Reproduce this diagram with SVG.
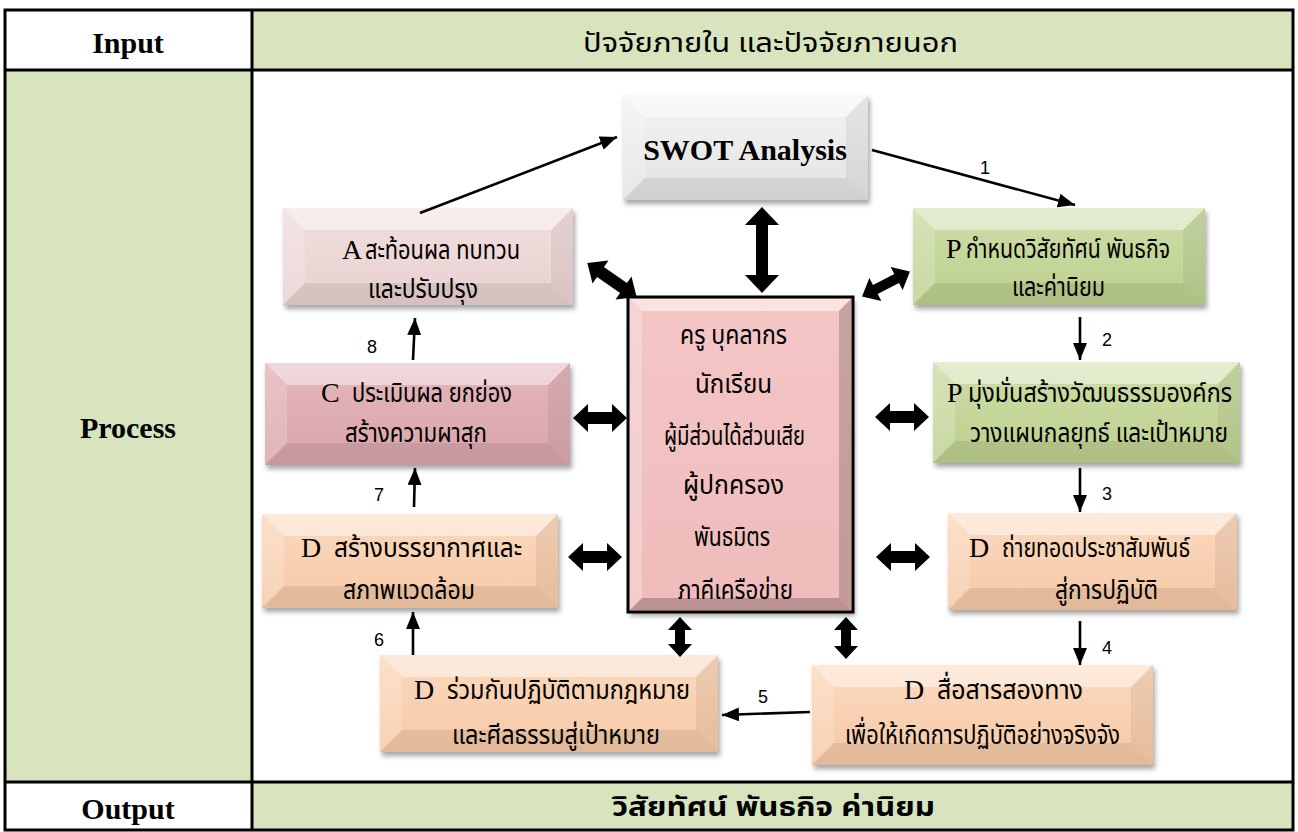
<svg xmlns="http://www.w3.org/2000/svg" width="1298" height="832" viewBox="0 0 1298 832">
<style>
.cell{fill:#D7E4BD}
.grid{stroke:#000;stroke-width:3;fill:none}
.hdr{font-family:'Liberation Serif',serif;font-weight:bold;font-size:30px;fill:#000;text-anchor:middle}
.lat{font-family:'Liberation Serif',serif;font-size:28px;fill:#000}
.th{font-family:'Noto Sans Thai','Noto Sans','DejaVu Sans',sans-serif;font-size:27px;fill:#000}
.num{font-family:'Liberation Sans',sans-serif;font-size:18px;fill:#000;text-anchor:middle}
.bt{fill:#fff;fill-opacity:0.45}
.bl{fill:#fff;fill-opacity:0.18}
.br{fill:#000;fill-opacity:0.06}
.bb{fill:#000;fill-opacity:0.08}
.cbt{fill:#fff;fill-opacity:0.5}
.cbl{fill:#fff;fill-opacity:0.25}
.cbr{fill:#000;fill-opacity:0.18}
.cbb{fill:#000;fill-opacity:0.22}
.thin{stroke:#000;stroke-width:2.6;fill:none;marker-end:url(#ah)}
.fat{fill:#000}
</style>
<defs>
<marker id="ah" markerUnits="userSpaceOnUse" markerWidth="17" markerHeight="14" refX="17" refY="7" orient="auto">
<path d="M0,0 L17,7 L0,14 z" fill="#000"/>
</marker>
<filter id="sh" x="-10%" y="-10%" width="125%" height="130%">
<feDropShadow dx="2" dy="4" stdDeviation="2.5" flood-color="#000" flood-opacity="0.35"/>
</filter>
<linearGradient id="gSwot" x1="0" y1="0" x2="0" y2="1"><stop offset="0" stop-color="#F4F4F4"/><stop offset="1" stop-color="#E2E2E2"/></linearGradient>
<linearGradient id="gA" x1="0" y1="0" x2="0" y2="1"><stop offset="0" stop-color="#F2DEDE"/><stop offset="1" stop-color="#E9D0D0"/></linearGradient>
<linearGradient id="gP" x1="0" y1="0" x2="0" y2="1"><stop offset="0" stop-color="#CDDEA8"/><stop offset="1" stop-color="#BCD08E"/></linearGradient>
<linearGradient id="gC" x1="0" y1="0" x2="0" y2="1"><stop offset="0" stop-color="#E4B6BA"/><stop offset="1" stop-color="#D9A6AB"/></linearGradient>
<linearGradient id="gD" x1="0" y1="0" x2="0" y2="1"><stop offset="0" stop-color="#FBD9BE"/><stop offset="1" stop-color="#F6C9A6"/></linearGradient>
<linearGradient id="gM" x1="0" y1="0" x2="0" y2="1"><stop offset="0" stop-color="#F4C6C6"/><stop offset="1" stop-color="#EFBBBB"/></linearGradient>
</defs>

<g id="table">
<rect class="cell" x="252" y="10" width="1041" height="60"/>
<rect class="cell" x="5" y="70" width="247" height="712"/>
<rect class="cell" x="252" y="782" width="1041" height="48"/>
<rect class="grid" x="5" y="10" width="1288" height="820"/>
<line class="grid" x1="5" y1="70" x2="1293" y2="70"/>
<line class="grid" x1="5" y1="782" x2="1293" y2="782"/>
<line class="grid" x1="252" y1="10" x2="252" y2="830"/>
<text class="hdr" x="128" y="53">Input</text>
<text class="hdr" x="128" y="438">Process</text>
<text class="hdr" x="128" y="819">Output</text>
<text class="th" x="583" y="52" font-size="27" textLength="375" lengthAdjust="spacingAndGlyphs">ปัจจัยภายใน และปัจจัยภายนอก</text>
<text class="th" x="612" y="816" font-weight="bold" font-size="28" textLength="323" lengthAdjust="spacingAndGlyphs">วิสัยทัศน์ พันธกิจ ค่านิยม</text>
</g>

<g id="node-swot">
<g transform="translate(623,95)">
<rect width="245" height="105" fill="url(#gSwot)" filter="url(#sh)"/>
<polygon class="bt" points="0,0 245,0 223,22 22,22"/>
<polygon class="bl" points="0,0 22,22 22,83 0,105"/>
<polygon class="br" points="245,0 245,105 223,83 223,22"/>
<polygon class="bb" points="0,105 22,83 223,83 245,105"/>
</g>
<text class="hdr" x="745" y="160" font-size="31">SWOT Analysis</text>
</g>

<g id="node-a">
<g transform="translate(283,208)">
<rect width="290" height="97" fill="url(#gA)" filter="url(#sh)"/>
<polygon class="bt" points="0,0 290,0 268,22 22,22"/>
<polygon class="bl" points="0,0 22,22 22,75 0,97"/>
<polygon class="br" points="290,0 290,97 268,75 268,22"/>
<polygon class="bb" points="0,97 22,75 268,75 290,97"/>
</g>
<text class="lat" x="342" y="259">A</text>
<text class="th" x="365" y="259" textLength="155" lengthAdjust="spacingAndGlyphs">สะท้อนผล ทบทวน</text>
<text class="th" x="368" y="298" textLength="110" lengthAdjust="spacingAndGlyphs">และปรับปรุง</text>
</g>

<g id="node-p1">
<g transform="translate(913,208)">
<rect width="292" height="97" fill="url(#gP)" filter="url(#sh)"/>
<polygon class="bt" points="0,0 292,0 270,22 22,22"/>
<polygon class="bl" points="0,0 22,22 22,75 0,97"/>
<polygon class="br" points="292,0 292,97 270,75 270,22"/>
<polygon class="bb" points="0,97 22,75 270,75 292,97"/>
</g>
<text class="lat" x="946" y="258">P</text>
<text class="th" x="966" y="258" textLength="204" lengthAdjust="spacingAndGlyphs">กำหนดวิสัยทัศน์ พันธกิจ</text>
<text class="th" x="1012" y="296" textLength="93" lengthAdjust="spacingAndGlyphs">และค่านิยม</text>
</g>

<g id="node-center">
<g transform="translate(628,297)">
<rect width="225" height="315" fill="url(#gM)" filter="url(#sh)"/>
<polygon class="cbt" points="2,2 223,2 211,14 14,14"/>
<polygon class="cbl" points="2,2 14,14 14,301 2,313"/>
<polygon class="cbr" points="223,2 223,313 211,301 211,14"/>
<polygon class="cbb" points="2,313 14,301 211,301 223,313"/>
<rect width="225" height="315" fill="none" stroke="#000" stroke-width="3"/>
</g>
<text class="th" x="680" y="344" font-size="28" textLength="107" lengthAdjust="spacingAndGlyphs">ครู บุคลากร</text>
<text class="th" x="695" y="393" font-size="28" textLength="77" lengthAdjust="spacingAndGlyphs">นักเรียน</text>
<text class="th" x="664" y="445" font-size="28" textLength="141" lengthAdjust="spacingAndGlyphs">ผู้มีส่วนได้ส่วนเสีย</text>
<text class="th" x="683" y="494" font-size="28" textLength="101" lengthAdjust="spacingAndGlyphs">ผู้ปกครอง</text>
<text class="th" x="694" y="546" font-size="28" textLength="76" lengthAdjust="spacingAndGlyphs">พันธมิตร</text>
<text class="th" x="678" y="599" font-size="28" textLength="115" lengthAdjust="spacingAndGlyphs">ภาคีเครือข่าย</text>
</g>

<g id="node-c">
<g transform="translate(265,363)">
<rect width="305" height="102" fill="url(#gC)" filter="url(#sh)"/>
<polygon class="bt" points="0,0 305,0 283,22 22,22"/>
<polygon class="bl" points="0,0 22,22 22,80 0,102"/>
<polygon class="br" points="305,0 305,102 283,80 283,22"/>
<polygon class="bb" points="0,102 22,80 283,80 305,102"/>
</g>
<text class="lat" x="321" y="402">C</text>
<text class="th" x="352" y="402" textLength="160" lengthAdjust="spacingAndGlyphs">ประเมินผล ยกย่อง</text>
<text class="th" x="345" y="442" textLength="142" lengthAdjust="spacingAndGlyphs">สร้างความผาสุก</text>
</g>

<g id="node-p2">
<g transform="translate(933,362)">
<rect width="307" height="101" fill="url(#gP)" filter="url(#sh)"/>
<polygon class="bt" points="0,0 307,0 285,22 22,22"/>
<polygon class="bl" points="0,0 22,22 22,79 0,101"/>
<polygon class="br" points="307,0 307,101 285,79 285,22"/>
<polygon class="bb" points="0,101 22,79 285,79 307,101"/>
</g>
<text class="lat" x="947" y="402">P</text>
<text class="th" x="968" y="402" textLength="264" lengthAdjust="spacingAndGlyphs">มุ่งมั่นสร้างวัฒนธรรมองค์กร</text>
<text class="th" x="970" y="442" textLength="258" lengthAdjust="spacingAndGlyphs">วางแผนกลยุทธ์ และเป้าหมาย</text>
</g>

<g id="node-d1">
<g transform="translate(262,514)">
<rect width="296" height="94" fill="url(#gD)" filter="url(#sh)"/>
<polygon class="bt" points="0,0 296,0 274,22 22,22"/>
<polygon class="bl" points="0,0 22,22 22,72 0,94"/>
<polygon class="br" points="296,0 296,94 274,72 274,22"/>
<polygon class="bb" points="0,94 22,72 274,72 296,94"/>
</g>
<text class="lat" x="301" y="557">D</text>
<text class="th" x="334" y="557" textLength="188" lengthAdjust="spacingAndGlyphs">สร้างบรรยากาศและ</text>
<text class="th" x="343" y="599" textLength="132" lengthAdjust="spacingAndGlyphs">สภาพแวดล้อม</text>
</g>

<g id="node-d2">
<g transform="translate(948,513)">
<rect width="289" height="97" fill="url(#gD)" filter="url(#sh)"/>
<polygon class="bt" points="0,0 289,0 267,22 22,22"/>
<polygon class="bl" points="0,0 22,22 22,75 0,97"/>
<polygon class="br" points="289,0 289,97 267,75 267,22"/>
<polygon class="bb" points="0,97 22,75 267,75 289,97"/>
</g>
<text class="lat" x="969" y="557">D</text>
<text class="th" x="1002" y="557" textLength="188" lengthAdjust="spacingAndGlyphs">ถ่ายทอดประชาสัมพันธ์</text>
<text class="th" x="1055" y="599" textLength="103" lengthAdjust="spacingAndGlyphs">สู่การปฏิบัติ</text>
</g>

<g id="node-d3">
<g transform="translate(380,655)">
<rect width="338" height="97" fill="url(#gD)" filter="url(#sh)"/>
<polygon class="bt" points="0,0 338,0 316,22 22,22"/>
<polygon class="bl" points="0,0 22,22 22,75 0,97"/>
<polygon class="br" points="338,0 338,97 316,75 316,22"/>
<polygon class="bb" points="0,97 22,75 316,75 338,97"/>
</g>
<text class="lat" x="414" y="699">D</text>
<text class="th" x="447" y="699" textLength="243" lengthAdjust="spacingAndGlyphs">ร่วมกันปฏิบัติตามกฎหมาย</text>
<text class="th" x="452" y="744" textLength="208" lengthAdjust="spacingAndGlyphs">และศีลธรรมสู่เป้าหมาย</text>
</g>

<g id="node-d4">
<g transform="translate(812,665)">
<rect width="341" height="100" fill="url(#gD)" filter="url(#sh)"/>
<polygon class="bt" points="0,0 341,0 319,22 22,22"/>
<polygon class="bl" points="0,0 22,22 22,78 0,100"/>
<polygon class="br" points="341,0 341,100 319,78 319,22"/>
<polygon class="bb" points="0,100 22,78 319,78 341,100"/>
</g>
<text class="lat" x="904" y="699">D</text>
<text class="th" x="937" y="699" textLength="146" lengthAdjust="spacingAndGlyphs">สื่อสารสองทาง</text>
<text class="th" x="845" y="744" textLength="275" lengthAdjust="spacingAndGlyphs">เพื่อให้เกิดการปฏิบัติอย่างจริงจัง</text>
</g>

<g id="connectors">
<line class="thin" x1="420" y1="213" x2="617" y2="137"/>
<line class="thin" x1="872" y1="150" x2="1075" y2="205"/>
<line class="thin" x1="1080" y1="317" x2="1080" y2="360"/>
<line class="thin" x1="1080" y1="468" x2="1080" y2="512"/>
<line class="thin" x1="1080" y1="621" x2="1080" y2="665"/>
<line class="thin" x1="810" y1="712" x2="722" y2="715"/>
<line class="thin" x1="413" y1="655" x2="413" y2="612"/>
<line class="thin" x1="414" y1="507" x2="415" y2="468"/>
<line class="thin" x1="413" y1="360" x2="415" y2="318"/>
<text class="num" x="985" y="174">1</text>
<text class="num" x="1107" y="346">2</text>
<text class="num" x="1107" y="500">3</text>
<text class="num" x="1107" y="654">4</text>
<text class="num" x="763" y="703">5</text>
<text class="num" x="379" y="646">6</text>
<text class="num" x="379" y="501">7</text>
<text class="num" x="372" y="353">8</text>
<path class="fat" transform="translate(762,250) rotate(90)" d="M-43,0 L-25,-17 L-25,-6 L25,-6 L25,-17 L43,0 L25,17 L25,6 L-25,6 L-25,17 z"/>
<path class="fat" transform="translate(612,280) rotate(34.7)" d="M-30,0 L-14,-14 L-14,-6 L14,-6 L14,-14 L30,0 L14,14 L14,6 L-14,6 L-14,14 z"/>
<path class="fat" transform="translate(886,284) rotate(-27.5)" d="M-27,0 L-12,-13 L-12,-5 L12,-5 L12,-13 L27,0 L12,13 L12,5 L-12,5 L-12,13 z"/>
<path class="fat" transform="translate(600,418)" d="M-27,0 L-12,-14 L-12,-6 L12,-6 L12,-14 L27,0 L12,14 L12,6 L-12,6 L-12,14 z"/>
<path class="fat" transform="translate(902,417)" d="M-27,0 L-12,-14 L-12,-6 L12,-6 L12,-14 L27,0 L12,14 L12,6 L-12,6 L-12,14 z"/>
<path class="fat" transform="translate(595,557)" d="M-27,0 L-12,-14 L-12,-6 L12,-6 L12,-14 L27,0 L12,14 L12,6 L-12,6 L-12,14 z"/>
<path class="fat" transform="translate(903,557)" d="M-27,0 L-12,-14 L-12,-6 L12,-6 L12,-14 L27,0 L12,14 L12,6 L-12,6 L-12,14 z"/>
<path class="fat" transform="translate(680,637) rotate(90)" d="M-20,0 L-7,-12 L-7,-5 L7,-5 L7,-12 L20,0 L7,12 L7,5 L-7,5 L-7,12 z"/>
<path class="fat" transform="translate(846,638) rotate(90)" d="M-21,0 L-8,-12 L-8,-5 L8,-5 L8,-12 L21,0 L8,12 L8,5 L-8,5 L-8,12 z"/>
</g>
</svg>
